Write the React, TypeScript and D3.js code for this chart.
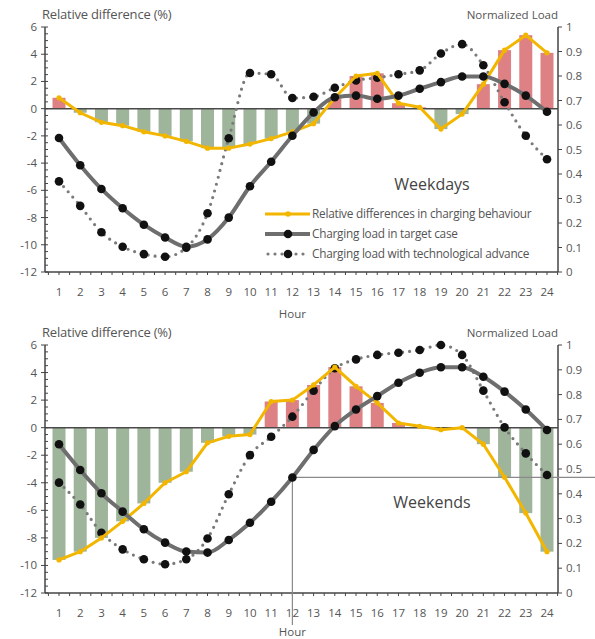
import React from "react";
import * as d3 from "d3";

const hours = d3.range(1, 25);

// Weekdays
const wdRel = [0.8, -0.3, -1.0, -1.25, -1.7, -2.0, -2.4, -2.9, -2.9, -2.6, -2.2, -1.7, -1.1, 0.8, 2.4, 2.6, 0.4, 0.1, -1.5, -0.4, 1.8, 4.3, 5.4, 4.1];
const wdTarget = [0.547, 0.436, 0.339, 0.26, 0.193, 0.141, 0.103, 0.133, 0.222, 0.35, 0.45, 0.556, 0.651, 0.713, 0.72, 0.707, 0.72, 0.748, 0.775, 0.798, 0.798, 0.768, 0.72, 0.654];
const wdTech = [0.37, 0.27, 0.162, 0.103, 0.073, 0.062, 0.099, 0.24, 0.546, 0.812, 0.807, 0.71, 0.715, 0.752, 0.782, 0.793, 0.807, 0.823, 0.892, 0.93, 0.844, 0.693, 0.556, 0.46];

// Weekends
const weRel = [-9.6, -9.0, -8.0, -6.8, -5.5, -4.0, -3.2, -1.1, -0.63, -0.5, 1.9, 2.0, 3.1, 4.4, 3.0, 1.8, 0.34, 0.1, -0.15, 0.0, -1.2, -3.6, -6.2, -9.0];
const weTarget = [0.6, 0.496, 0.402, 0.328, 0.257, 0.203, 0.167, 0.163, 0.214, 0.283, 0.368, 0.466, 0.577, 0.673, 0.74, 0.794, 0.848, 0.888, 0.91, 0.91, 0.872, 0.812, 0.74, 0.657];
const weTech = [0.445, 0.357, 0.243, 0.176, 0.136, 0.116, 0.136, 0.22, 0.398, 0.556, 0.63, 0.711, 0.816, 0.906, 0.942, 0.96, 0.969, 0.98, 1.0, 0.96, 0.816, 0.668, 0.563, 0.476];

const leftTicks = [-12, -10, -8, -6, -4, -2, 0, 2, 4, 6];
const rightTicks = [0, 0.1, 0.2, 0.3, 0.4, 0.5, 0.6, 0.7, 0.8, 0.9, 1];
const legendLabels = [
  "Relative differences in charging behaviour",
  "Charging load in target case",
  "Charging load with technological advance",
];

const FONT = "'Open Sans', sans-serif";
const TXT = "#555";
const YELLOW = "#f3b600";
const PINK = "#dd8184";
const GREEN = "#9fb59b";
const GRAYLINE = "#6e6e6e";

const x = d3.scaleLinear().domain([1, 24]).range([59, 547]);
const X0 = 45;
const X1 = 558;

type PanelProps = {
  top: number;
  bottom: number;
  rel: number[];
  target: number[];
  tech: number[];
  label: string;
  labelY: number;
  legend: boolean;
  cross: boolean;
  hourY: number;
};

function Panel({ top, bottom, rel, target, tech, label, labelY, legend, cross, hourY }: PanelProps) {
  const yL = d3.scaleLinear().domain([-12, 6]).range([bottom, top]);
  const yR = d3.scaleLinear().domain([0, 1]).range([bottom, top]);
  const barW = 13;
  const relLine = d3.line<number>().x((_, i) => x(hours[i])).y((d) => yL(d));
  const loadLine = d3.line<number>().x((_, i) => x(hours[i])).y((d) => yR(d)).curve(d3.curveMonotoneX);
  const minorL = d3.range(-12, 6.01, 0.5);
  const minorX = d3.range(0.5, 24.51, 0.5);
  return (
    <g>
      <text x={42} y={top - 8} fontSize={13} fill={TXT} fontFamily={FONT} letterSpacing={-0.2}>Relative difference (%)</text>
      <text x={X1} y={top - 8} fontSize={11.5} fill={TXT} fontFamily={FONT} textAnchor="end">Normalized Load</text>
      {rel.map((v, i) => (
        <rect key={i} x={x(hours[i]) - barW / 2} width={barW}
          y={Math.min(yL(v), yL(0))} height={Math.abs(yL(v) - yL(0))}
          fill={v >= 0 ? PINK : GREEN} />
      ))}
      <line x1={X0} x2={X1} y1={yL(0)} y2={yL(0)} stroke="#4a4a4a" strokeWidth={1.5} />
      <line x1={X0} x2={X0} y1={top} y2={bottom} stroke="#444" strokeWidth={1.5} />
      <line x1={X1} x2={X1} y1={top} y2={bottom} stroke="#444" strokeWidth={1.5} />
      <line x1={X0} x2={X1} y1={bottom} y2={bottom} stroke="#444" strokeWidth={1.5} />
      {minorL.map((t, i) => (
        <line key={"ml" + i} x1={X0} x2={X0 + 3} y1={yL(t)} y2={yL(t)} stroke="#444" strokeWidth={1} />
      ))}
      {leftTicks.map((t) => (
        <g key={"lt" + t}>
          <line x1={X0 - 4} x2={X0} y1={yL(t)} y2={yL(t)} stroke="#444" strokeWidth={1} />
          <text x={X0 - 8} y={yL(t)} dy="0.35em" fontSize={11.5} fill={TXT} fontFamily={FONT} textAnchor="end">{t}</text>
        </g>
      ))}
      {rightTicks.map((t) => (
        <g key={"rt" + t}>
          <line x1={X1} x2={X1 + 4} y1={yR(t)} y2={yR(t)} stroke="#444" strokeWidth={1} />
          <text x={X1 + 8} y={yR(t)} dy="0.35em" fontSize={11.5} fill={TXT} fontFamily={FONT}>{t}</text>
        </g>
      ))}
      {minorX.map((t, i) => (
        <line key={"mx" + i} x1={x(t)} x2={x(t)} y1={bottom} y2={bottom + 3} stroke="#444" strokeWidth={1} />
      ))}
      {hours.map((h) => (
        <text key={"xt" + h} x={x(h)} y={bottom + 20} dy="0.35em" fontSize={11.5} fill={TXT} fontFamily={FONT} textAnchor="middle">{h}</text>
      ))}
      <text x={x(12)} y={hourY} fontSize={11.5} fill={TXT} fontFamily={FONT} textAnchor="middle">Hour</text>
      {cross && (
        <g>
          <line x1={x(12)} x2={595} y1={yR(target[11])} y2={yR(target[11])} stroke="#8a8a8a" strokeWidth={1.2} />
          <line x1={x(12)} x2={x(12)} y1={yR(target[11])} y2={bottom + 32} stroke="#8a8a8a" strokeWidth={1.2} />
        </g>
      )}
      <path d={loadLine(tech) || ""} fill="none" stroke="#7a7a7a" strokeWidth={3.2} strokeDasharray="0 7" strokeLinecap="round" />
      {tech.map((v, i) => (
        <circle key={"tc" + i} cx={x(hours[i])} cy={yR(v)} r={4.3} fill="#111" />
      ))}
      <path d={relLine(rel) || ""} fill="none" stroke={YELLOW} strokeWidth={3} strokeLinejoin="round" />
      {rel.map((v, i) => (
        <circle key={"yc" + i} cx={x(hours[i])} cy={yL(v)} r={2.6} fill={YELLOW} />
      ))}
      <path d={loadLine(target) || ""} fill="none" stroke={GRAYLINE} strokeWidth={4} />
      {target.map((v, i) => (
        <circle key={"gc" + i} cx={x(hours[i])} cy={yR(v)} r={4.3} fill="#111" />
      ))}
      <text x={432} y={labelY} fontSize={16} fill="#444" fontFamily={FONT} textAnchor="middle">{label}</text>
      {legend && (
        <g fontFamily={FONT} fontSize={11.8} fill={TXT} letterSpacing={-0.25}>
          <line x1={265} x2={310} y1={214} y2={214} stroke={YELLOW} strokeWidth={3} />
          <circle cx={288} cy={214} r={2.8} fill={YELLOW} />
          <text x={312} y={214} dy="0.35em">{legendLabels[0]}</text>
          <line x1={265} x2={310} y1={234} y2={234} stroke={GRAYLINE} strokeWidth={4} />
          <circle cx={288} cy={234} r={4.3} fill="#111" />
          <text x={312} y={234} dy="0.35em">{legendLabels[1]}</text>
          <line x1={268} x2={310} y1={254} y2={254} stroke="#7a7a7a" strokeWidth={3.2} strokeDasharray="0 7" strokeLinecap="round" />
          <circle cx={288} cy={254} r={4.3} fill="#111" />
          <text x={312} y={254} dy="0.35em">{legendLabels[2]}</text>
        </g>
      )}
    </g>
  );
}

export default function App() {
  return (
    <svg width={595} height={639} style={{ position: "absolute", left: 0, top: 0, background: "#fff" }}>
      <rect width={595} height={639} fill="#fff" />
      <Panel top={27} bottom={272} rel={wdRel} target={wdTarget} tech={wdTech} label="Weekdays" labelY={190} legend={true} cross={false} hourY={318} />
      <Panel top={345} bottom={593} rel={weRel} target={weTarget} tech={weTech} label="Weekends" labelY={508} legend={false} cross={true} hourY={636} />
    </svg>
  );
}
